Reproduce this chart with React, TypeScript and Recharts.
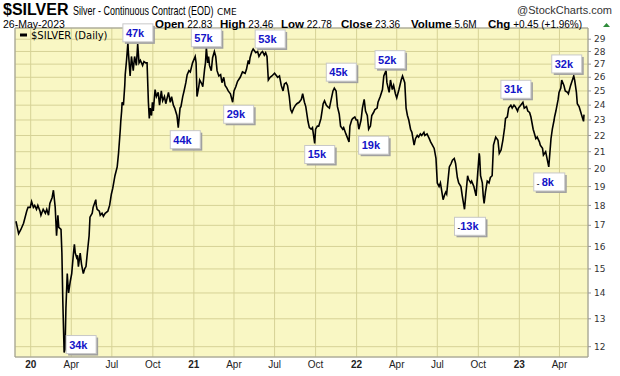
import React from "react";
import {
  LineChart,
  Line,
  XAxis,
  YAxis,
  CartesianGrid,
  ReferenceDot,
  ReferenceArea,
} from "recharts";

// daily closes (month-day per year)
const dates19 = ["11-29", "12-05", "12-10", "12-16", "12-23", "12-26", "12-31"];
const close19 = [17.2, 16.6, 16.8, 17.1, 17.7, 17.9, 17.9];

const dates20 = [
  "01-03", "01-07", "01-10", "01-14", "01-17", "01-22", "01-24", "01-29", "02-03", "02-06",
  "02-10", "02-13", "02-18", "02-21", "02-25", "02-28", "03-02", "03-04", "03-09", "03-11",
  "03-13", "03-16", "03-18", "03-20", "03-23", "03-24", "03-26", "03-30", "04-02", "04-06",
  "04-08", "04-10", "04-13", "04-15", "04-17", "04-21", "04-24", "04-28", "05-01", "05-04",
  "05-07", "05-11", "05-13", "05-18", "05-20", "05-26", "05-27", "05-29", "06-03", "06-05",
  "06-09", "06-12", "06-16", "06-22", "06-26", "06-30", "07-03", "07-08", "07-13", "07-16",
  "07-20", "07-21", "07-23", "07-24", "07-27", "07-30", "07-31", "08-03", "08-06", "08-07",
  "08-11", "08-14", "08-18", "08-21", "08-25", "08-28", "08-31", "09-03", "09-08", "09-11",
  "09-15", "09-18", "09-21", "09-23", "09-25", "09-28", "09-30", "10-02", "10-06", "10-09",
  "10-13", "10-16", "10-20", "10-23", "10-27", "10-30", "11-05", "11-09", "11-12", "11-16",
  "11-19", "11-24", "11-27", "12-01", "12-03", "12-07", "12-10", "12-14", "12-17", "12-21",
  "12-24", "12-29",
];
const close20 = [
  18.2, 17.9, 18.0, 17.8, 18.0, 17.7, 17.5, 17.8, 17.6, 17.8,
  17.5, 18.1, 18.4, 18.8, 17.9, 16.5, 17.5, 16.9, 16.8, 15.7,
  13.7, 11.8, 11.9, 13.4, 14.8, 14.5, 14.0, 14.5, 14.8, 15.7,
  16.1, 15.7, 15.5, 15.6, 15.1, 15.7, 15.2, 14.8, 15.0, 15.1,
  15.7, 16.5, 17.4, 17.6, 17.9, 18.3, 18.0, 17.8, 17.7, 17.5,
  17.6, 17.45, 17.6, 17.7, 18.0, 18.6, 18.9, 19.6, 20.1, 20.9,
  22.4, 22.9, 23.6, 24.2, 24.0, 25.4, 26.2, 27.3, 28.7, 28.0,
  26.1, 27.6, 26.5, 27.6, 26.9, 28.6, 27.1, 27.3, 26.9, 27.2,
  27.1, 27.1, 24.2, 23.1, 23.8, 23.3, 24.2, 23.6, 25.1, 24.6,
  24.9, 24.0, 25.0, 24.3, 24.6, 24.1, 24.9, 24.2, 24.6, 24.0,
  23.8, 23.3, 22.5, 23.8, 23.9, 24.6, 25.0, 25.6, 26.2, 26.5,
  26.4, 27.1,
];

const dates21 = [
  "01-04", "01-06", "01-08", "01-12", "01-14", "01-19", "01-21", "01-25", "01-27", "01-29",
  "02-01", "02-03", "02-05", "02-09", "02-12", "02-16", "02-19", "02-22", "02-26", "03-02",
  "03-05", "03-09", "03-12", "03-16", "03-19", "03-24", "03-29", "04-01", "04-05", "04-09",
  "04-15", "04-20", "04-26", "04-29", "05-03", "05-05", "05-07", "05-11", "05-14", "05-18",
  "05-20", "05-24", "05-27", "06-01", "06-04", "06-08", "06-11", "06-14", "06-17", "06-21",
  "06-25", "07-01", "07-08", "07-12", "07-16", "07-20", "07-23", "07-27", "07-30", "08-03",
  "08-06", "08-09", "08-13", "08-17", "08-20", "08-25", "08-30", "09-02", "09-06", "09-09",
  "09-14", "09-17", "09-21", "09-24", "09-29", "10-01", "10-05", "10-08", "10-13", "10-18",
  "10-21", "10-25", "10-28", "11-01", "11-05", "11-09", "11-12", "11-16", "11-19", "11-23",
  "11-26", "12-01", "12-03", "12-08", "12-15", "12-17", "12-21", "12-23", "12-28", "12-31",
];
const close21 = [
  27.6, 27.1, 24.6, 25.3, 25.8, 25.5, 25.3, 26.6, 27.1, 28.3,
  27.1, 27.6, 26.9, 26.5, 27.5, 28.0, 27.6, 26.5, 26.1, 26.2,
  25.6, 26.0, 25.4, 25.2, 25.0, 24.8, 24.2, 25.0, 25.3, 25.7,
  26.0, 26.4, 26.3, 26.6, 27.3, 27.0, 27.5, 28.0, 28.2, 28.0,
  27.9, 28.0, 27.6, 27.9, 28.0, 27.7, 27.9, 27.6, 25.8, 26.0,
  26.1, 26.3, 26.0, 26.1, 25.4, 25.0, 25.5, 25.6, 25.4, 24.6,
  23.7, 23.5, 23.8, 24.0, 24.1, 24.2, 24.4, 24.8, 24.2, 23.9,
  22.9, 22.5, 22.4, 22.5, 21.5, 22.4, 22.6, 22.6, 23.1, 24.1,
  24.3, 24.0, 23.9, 23.8, 24.4, 25.0, 25.2, 25.0, 23.9, 23.4,
  22.6, 22.4, 22.5, 22.1, 21.6, 22.6, 23.0, 23.1, 23.2, 23.0,
];

const dates22 = [
  "01-03", "01-06", "01-11", "01-14", "01-18", "01-21", "01-25", "01-28", "02-01", "02-04",
  "02-08", "02-11", "02-16", "02-18", "02-23", "02-28", "03-03", "03-08", "03-10", "03-15",
  "03-18", "03-22", "03-25", "03-29", "04-01", "04-06", "04-11", "04-14", "04-19", "04-22",
  "04-25", "04-28", "05-02", "05-05", "05-10", "05-13", "05-17", "05-20", "05-24", "05-27",
  "06-01", "06-03", "06-08", "06-13", "06-16", "06-20", "06-24", "06-28", "07-01", "07-05",
  "07-08", "07-14", "07-18", "07-20", "07-22", "07-28", "08-01", "08-04", "08-08", "08-11",
  "08-15", "08-18", "08-23", "08-26", "08-31", "09-02", "09-07", "09-09", "09-14", "09-16",
  "09-21", "09-26", "09-28", "10-03", "10-04", "10-06", "10-10", "10-12", "10-14", "10-17",
  "10-19", "10-21", "10-25", "10-28", "11-01", "11-04", "11-09", "11-14", "11-17", "11-21",
  "11-25", "11-29", "12-01", "12-05", "12-08", "12-13", "12-16", "12-20", "12-23", "12-28",
  "12-30",
];
const close22 = [
  23.0, 22.4, 23.0, 23.8, 24.4, 23.6, 23.3, 22.4, 22.6, 23.3,
  23.5, 23.7, 23.8, 24.2, 24.6, 25.1, 26.1, 26.5, 25.6, 24.9,
  25.8, 25.1, 25.4, 24.8, 24.5, 25.1, 25.8, 26.1, 25.6, 23.8,
  23.3, 23.0, 22.4, 22.2, 21.4, 21.8, 22.0, 21.9, 22.1, 22.0,
  22.2, 22.0, 22.1, 21.8, 21.6, 21.4, 21.2, 20.6, 19.2, 19.0,
  19.2, 18.3, 18.6, 18.7, 18.6, 20.1, 20.3, 20.5, 20.6, 20.3,
  19.5, 19.2, 19.0, 18.5, 17.8, 18.3, 19.6, 19.4, 19.2, 19.3,
  19.0, 18.5, 19.2, 20.9, 20.7, 19.6, 19.2, 18.5, 18.1, 18.7,
  19.0, 19.3, 19.2, 19.5, 19.6, 21.4, 21.9, 21.7, 20.9, 21.1,
  21.7, 22.5, 23.1, 23.2, 23.8, 24.0, 23.8, 24.0, 23.9, 23.6,
  23.8,
];

const dates23 = [
  "01-04", "01-09", "01-12", "01-17", "01-20", "01-24", "01-27", "02-01", "02-03", "02-07",
  "02-10", "02-15", "02-17", "02-22", "02-24", "03-01", "03-08", "03-13", "03-14", "03-16",
  "03-20", "03-21", "03-24", "03-29", "03-31", "04-04", "04-06", "04-11", "04-14", "04-19",
  "04-21", "04-26", "05-03", "05-05", "05-09", "05-11", "05-15", "05-18", "05-22", "05-25",
  "05-26",
];
const close23 = [
  24.0, 24.2, 23.8, 23.9, 23.6, 23.5, 23.2, 22.4, 22.2, 21.8,
  21.9, 21.6, 21.4, 21.2, 20.8, 21.0, 20.1, 21.8, 22.0, 22.4,
  23.0, 23.2, 23.6, 24.4, 24.9, 25.2, 25.8, 25.4, 25.0, 24.9,
  24.8, 25.4, 26.1, 25.8, 24.9, 24.1, 23.9, 23.6, 23.2, 22.91,
  23.36,
];

// quarter ticks
const tickDates = [
  "2020-01-01", "2020-04-01", "2020-07-01", "2020-10-01",
  "2021-01-01", "2021-04-01", "2021-07-01", "2021-10-01",
  "2022-01-01", "2022-04-01", "2022-07-01", "2022-10-01",
  "2023-01-01", "2023-04-01",
];
const priceTicks = [12, 13, 14, 15, 16, 17, 18, 19, 20, 21, 22, 23, 24, 25, 26, 27, 28, 29];
const MONTHS = ["Jan", "Feb", "Mar", "Apr", "May", "Jun", "Jul", "Aug", "Sep", "Oct", "Nov", "Dec"];

// open-interest change notes
const noteText = ["34k", "47k", "44k", "57k", "29k", "53k", "15k", "45k", "19k", "52k", "-13k", "31k", "- 8k", "32k"];
const noteDate = [
  "2020-03-16", "2020-08-06", "2020-11-27", "2021-01-29", "2021-03-29", "2021-05-14", "2021-09-29",
  "2021-11-12", "2022-01-28", "2022-03-08", "2022-08-31", "2023-01-09", "2023-03-08", "2023-05-03",
];

// header quote
const quoteLabels = ["Open", "High", "Low", "Close", "Volume", "Chg"];
const quoteValues = ["22.83", "23.46", "22.78", "23.36", "5.6M", "+0.45 (+1.96%)"];

const DAY = 86400000;
const dayNum = (s: string) => Math.round(Date.parse(s + "T00:00:00Z") / DAY);

const rows: { day: number; close: number }[] = [];
const addYear = (year: string, ds: string[], cs: number[]) =>
  ds.forEach((d, i) => rows.push({ day: dayNum(`${year}-${d}`), close: cs[i] }));
addYear("2019", dates19, close19);
addYear("2020", dates20, close20);
addYear("2021", dates21, close21);
addYear("2022", dates22, close22);
addYear("2023", dates23, close23);

const jan20 = dayNum("2020-01-01");
const xDomain = [jan20 - 35.2, jan20 + 1250];
const yDomain = [11.65, 29.95];

// box placement relative to the marked point (box top-left)
const noteOffset = [
  [2, -17], [-5, -19], [-8, 3], [-15, -19], [-9, 3], [2, -19], [-10, 2],
  [-8, -25], [-10, 7], [-11, -20], [-10, 8], [-22, -22], [-15, 6], [-22, -21],
];
const quoteX = [155, 220, 281, 341, 411, 488];

const SANS = "Liberation Sans, Arial, sans-serif";

const XTick = (props: any) => {
  const { x, y, payload } = props;
  const d = new Date(payload.value * DAY);
  const m = d.getUTCMonth();
  const isYear = m === 0;
  return (
    <text
      x={x}
      y={y}
      dy="0.71em"
      textAnchor="middle"
      fontSize={10}
      fontFamily={SANS}
      fontWeight={isYear ? "bold" : "normal"}
      fill="#222"
    >
      {isYear ? String(d.getUTCFullYear()).slice(2) : MONTHS[m]}
    </text>
  );
};

const YTick = (props: any) => {
  const { x, y, payload } = props;
  return (
    <text x={x} y={y} dy="0.35em" textAnchor="start" fontSize={9} fontFamily="DejaVu Sans, sans-serif" fill="#333">
      {payload.value}
    </text>
  );
};

const NoteBox = ({ cx, cy, text, off }: any) => {
  const w = text.length > 3 ? 31 : 30;
  const h = 18;
  const bx = cx + off[0];
  const by = cy + off[1];
  const neg = text.startsWith("-");
  return (
    <g>
      <rect x={bx + 2} y={by + 2} width={w} height={h} fill="#a0a0a0" />
      <rect x={bx} y={by} width={w} height={h} fill="#fff" stroke="#c8c8c8" strokeWidth={1} />
      <text x={bx + 3} y={by + 13} fontSize={11} fontWeight="bold" fontFamily={SANS} fill="#1414c8">
        {neg ? (
          <>
            <tspan fill="#223" fontSize={8}>{text.startsWith("- ") ? "- " : "-"}</tspan>
            <tspan>{text.replace(/^-\s?/, "")}</tspan>
          </>
        ) : (
          text
        )}
      </text>
    </g>
  );
};

const Header = () => (
  <svg width={620} height={376} style={{ position: "absolute", left: 0, top: 0, pointerEvents: "none" }}>
    <g fontFamily={SANS} fill="#000">
      <text x={3} y={14.5} fontSize={16} fontWeight="bold">
        $SILVER
      </text>
      <text transform="translate(73,14.5) scale(0.75,1)" fontSize={12}>
        Silver - Continuous Contract (EOD)
      </text>
      <text x={217} y={14.5} fontSize={9} fontFamily="DejaVu Sans, sans-serif">
        CME
      </text>
      <text x={612} y={14} fontSize={11} fill="#333" textAnchor="end">
        @StockCharts.com
      </text>
      <text x={3} y={28} fontSize={10.5}>
        26-May-2023
      </text>
      {quoteLabels.map((k, i) => (
        <text key={k} x={quoteX[i]} y={28}>
          <tspan fontWeight="bold" fontSize={11.5}>{k}</tspan>
          <tspan fontSize={10}> {quoteValues[i]}</tspan>
        </text>
      ))}
      <path d="M603,27 L606.5,23 L610,27 Z" fill="#2e8b3a" />
    </g>
    <line x1={20} y1={35} x2={27} y2={35} stroke="#000" strokeWidth={3} />
    <text x={31} y={39} fontSize={10} fontFamily="DejaVu Sans, sans-serif" fill="#000">
      $SILVER (Daily)
    </text>
  </svg>
);

const App = () => {
  return (
    <div style={{ position: "absolute", left: 0, top: 0, width: 620, height: 376, background: "#fff" }}>
      <LineChart width={620} height={376} data={rows} margin={{ top: 28, right: 0, bottom: 0, left: 15 }}>
        <CartesianGrid stroke="#d6d296" fill="#f9f7c4" />
        <XAxis
          dataKey="day"
          type="number"
          domain={xDomain}
          allowDataOverflow
          ticks={tickDates.map(dayNum)}
          interval={0}
          tick={<XTick />}
          tickLine={false}
          axisLine={false}
          tickSize={0}
          tickMargin={4}
          height={19}
        />
        <YAxis
          orientation="right"
          type="number"
          scale="log"
          domain={yDomain}
          allowDataOverflow
          ticks={priceTicks}
          interval={0}
          tick={<YTick />}
          tickSize={3}
          tickMargin={3}
          tickLine={{ stroke: "#999" }}
          axisLine={false}
          width={32}
        />
        <ReferenceArea
          x1={xDomain[0]}
          x2={xDomain[1]}
          y1={yDomain[0]}
          y2={yDomain[1]}
          fill="none"
          stroke="#9a9a9a"
          ifOverflow="visible"
        />
        <Line
          type="linear"
          dataKey="close"
          stroke="#000"
          strokeWidth={1.6}
          dot={false}
          isAnimationActive={false}
        />
        {noteText.map((t, i) => {
          const day = dayNum(noteDate[i]);
          const row = rows.find((r) => r.day === day);
          return (
            <ReferenceDot
              key={t + i}
              x={day}
              y={row ? row.close : 20}
              r={0}
              ifOverflow="visible"
              shape={(p: any) => <NoteBox cx={p.cx} cy={p.cy} text={t} off={noteOffset[i]} />}
            />
          );
        })}
      </LineChart>
      <Header />
    </div>
  );
};

export default App;
